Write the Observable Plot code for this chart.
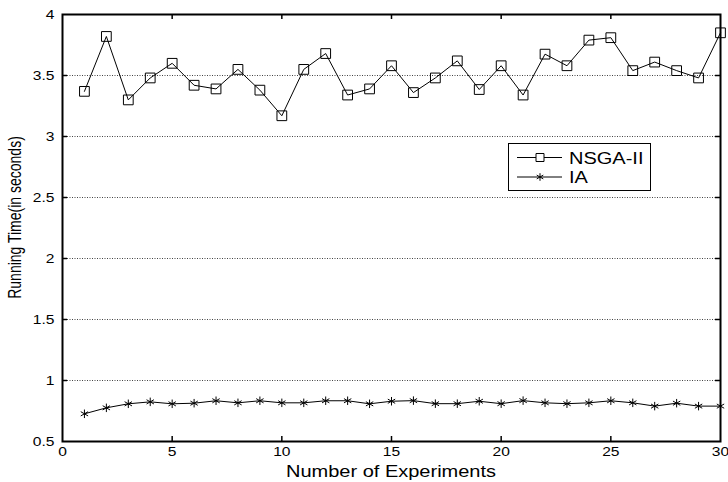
<!DOCTYPE html>
<html>
<head>
<meta charset="utf-8">
<script src="https://cdn.jsdelivr.net/npm/d3@7"></script>
<script src="https://cdn.jsdelivr.net/npm/@observablehq/plot@0.6"></script>
<style>
  html, body { margin: 0; padding: 0; background: #fff; }
  #chart { width: 728px; height: 482px; }
</style>
</head>
<body>
<div id="chart"></div>
<script>
// ---- data ----
const experiments = [1,2,3,4,5,6,7,8,9,10,11,12,13,14,15,16,17,18,19,20,21,22,23,24,25,26,27,28,29,30];
const nsga2 = [3.37,3.82,3.30,3.48,3.60,3.42,3.39,3.55,3.38,3.17,3.55,3.68,3.34,3.39,3.58,3.36,3.48,3.62,3.385,3.58,3.34,3.675,3.58,3.79,3.81,3.54,3.61,3.54,3.48,3.85];
const ia = [0.727,0.776,0.809,0.825,0.809,0.814,0.834,0.817,0.834,0.817,0.817,0.834,0.834,0.809,0.83,0.835,0.81,0.81,0.83,0.81,0.835,0.817,0.81,0.817,0.834,0.817,0.79,0.814,0.79,0.79];
const seriesNames = ["NSGA-II", "IA"];
const xTickLabels = [0,5,10,15,20,25,30];
const yTickLabels = [0.5,1,1.5,2,2.5,3,3.5,4];
const xTickMarks = [5,10,15,20,25];
const yGrid = [1,1.5,2,2.5,3,3.5];
const xTitle = "Number of Experiments";
const yTitle = "Running Time(in seconds)";

const rowsN = experiments.map((x, i) => ({x, y: nsga2[i]}));
const rowsI = experiments.map((x, i) => ({x, y: ia[i]}));

const W = 728, H = 482, mL = 62, mR = 8, mT = 14, mB = 41;
const plotW = W - mL - mR, plotH = H - mT - mB;
const tick = 5;
const FONT = "'Liberation Sans', Arial, sans-serif";

const chart = Plot.plot({
  width: W, height: H,
  marginLeft: mL, marginRight: mR, marginTop: mT, marginBottom: mB,
  style: {fontFamily: FONT, fontSize: "13px", color: "black", background: "white"},
  x: {domain: [0, 30]},
  y: {domain: [0.5, 4]},
  marks: [
    Plot.ruleY(yGrid, {y: d => d, stroke: "#444", strokeDasharray: "1,1.5", strokeWidth: 1}),
    Plot.tickX(xTickMarks, {x: d => d, insetTop: plotH - tick, stroke: "black", strokeWidth: 1.5}),
    Plot.tickX(xTickMarks, {x: d => d, insetBottom: plotH - tick, stroke: "black", strokeWidth: 1.5}),
    Plot.tickY(yGrid, {y: d => d, insetRight: plotW - tick, stroke: "black", strokeWidth: 1.5}),
    Plot.tickY(yGrid, {y: d => d, insetLeft: plotW - tick, stroke: "black", strokeWidth: 1.5}),
    Plot.line(rowsN, {x: "x", y: "y", stroke: "black", strokeWidth: 1}),
    Plot.dot(rowsN, {x: "x", y: "y", symbol: "square", r: 5.5, stroke: "black", fill: "none", strokeWidth: 1}),
    Plot.line(rowsI, {x: "x", y: "y", stroke: "black", strokeWidth: 1}),
    Plot.dot(rowsI, {x: "x", y: "y", symbol: "asterisk", r: 4, stroke: "black", strokeWidth: 1}),
    Plot.axisX({ticks: xTickLabels, tickSize: 0, tickPadding: 5, label: null, tickFormat: d => String(d)}),
    Plot.axisY({ticks: yTickLabels, tickSize: 0, tickPadding: 8, label: null, tickFormat: d => String(d)}),
    Plot.frame({stroke: "black", strokeWidth: 2})
  ]
});

// horizontal stretch of the tick labels, as in the reference image
chart.querySelectorAll("text").forEach(t => {
  const tr = t.getAttribute("transform") || "";
  if (tr) t.setAttribute("transform", tr + " scale(1.2,1)");
});

const svg = d3.select(chart);

// axis titles
const tg = svg.append("g").attr("font-family", FONT).attr("fill", "black").attr("text-anchor", "middle");
tg.append("text").attr("font-size", 16)
  .attr("transform", `translate(${mL + plotW / 2},477) scale(1.25,1)`).text(xTitle);
tg.append("text").attr("font-size", 14)
  .attr("transform", `translate(21,217.5) rotate(-90) scale(1,1.33)`).text(yTitle);

// legend
const lg = svg.append("g").attr("font-family", FONT).attr("font-size", 16).attr("text-anchor", "start");
const bx = 508, by = 143, bw = 142, bh = 47;
lg.append("rect").attr("x", bx + 0.5).attr("y", by + 0.5).attr("width", bw).attr("height", bh)
  .attr("fill", "white").attr("stroke", "black").attr("stroke-width", 1);
const rowY = [157.5, 177];
const syms = [d3.symbol(d3.symbolSquare, 64), d3.symbol(d3.symbolAsterisk, 40)];
seriesNames.forEach((name, i) => {
  const y = rowY[i];
  lg.append("line").attr("x1", 517).attr("x2", 562).attr("y1", y).attr("y2", y).attr("stroke", "black");
  lg.append("path").attr("d", syms[i]()).attr("transform", `translate(540,${y})`)
    .attr("fill", i === 0 ? "white" : "none").attr("stroke", "black");
  lg.append("text").attr("transform", `translate(569,${y + 6}) scale(1.25,1)`).text(name);
});

document.getElementById("chart").appendChild(chart);
</script>
</body>
</html>
